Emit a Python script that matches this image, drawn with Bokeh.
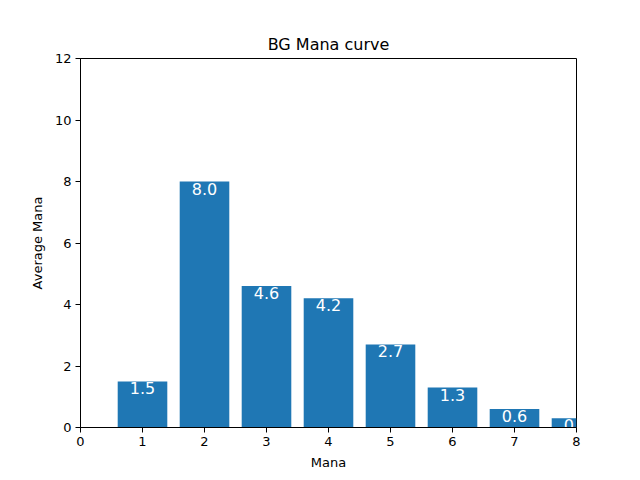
from bokeh.plotting import figure
from bokeh.models import ColumnDataSource, Range1d, FixedTicker
from bokeh.embed import file_html
from bokeh.resources import INLINE
from bokeh.core.properties import value

mana = [1, 2, 3, 4, 5, 6, 7, 8]
avg = [1.5, 8.0, 4.6, 4.2, 2.7, 1.3, 0.6, 0.3]
labels = ["1.5", "8.0", "4.6", "4.2", "2.7", "1.3", "0.6", "0.3"]
x_ticks = [0, 1, 2, 3, 4, 5, 6, 7, 8]
y_ticks = [0, 2, 4, 6, 8, 10, 12]

FONT = "DejaVu Sans"

src = ColumnDataSource(dict(x=mana, top=avg, label=labels))

p = figure(width=640, height=480, output_backend="svg", toolbar_location=None,
           x_range=Range1d(0, 8), y_range=Range1d(0, 12),
           min_border_left=80, min_border_right=64, min_border_top=58, min_border_bottom=53,
           title="BG Mana curve")
p.background_fill_color = "white"
p.border_fill_color = "white"
p.outline_line_color = "black"
p.outline_line_width = 1
p.grid.visible = False

p.title.align = "center"
p.title.text_font = FONT
p.title.text_font_size = "16px"
p.title.text_font_style = "normal"
p.title.text_color = "black"

p.vbar(x="x", top="top", width=0.8, bottom=0, source=src,
       fill_color="#1f77b4", line_color=None)
p.text(x="x", y="top", text="label", source=src, text_color="white",
       text_align="center", text_baseline="top", text_font=value(FONT),
       text_font_size="16px", y_offset=1)

for ax in (p.xaxis[0], p.yaxis[0]):
    ax.axis_label_text_font = FONT
    ax.axis_label_text_font_size = "13px"
    ax.axis_label_text_font_style = "normal"
    ax.axis_label_text_color = "black"
    ax.major_label_text_font = FONT
    ax.major_label_text_font_size = "13px"
    ax.major_label_text_color = "black"
    ax.major_tick_out = 5
    ax.major_tick_in = 0
    ax.minor_tick_out = 0
    ax.minor_tick_in = 0
    ax.axis_line_color = "black"
    ax.major_tick_line_color = "black"

p.xaxis[0].ticker = FixedTicker(ticks=x_ticks)
p.yaxis[0].ticker = FixedTicker(ticks=y_ticks)
p.xaxis[0].axis_label = "Mana"
p.yaxis[0].axis_label = "Average Mana"
p.xaxis[0].major_label_standoff = 4
p.yaxis[0].major_label_standoff = 4
p.xaxis[0].axis_label_standoff = 6
p.yaxis[0].axis_label_standoff = 7

open("out.html", "w").write(file_html(p, INLINE))
